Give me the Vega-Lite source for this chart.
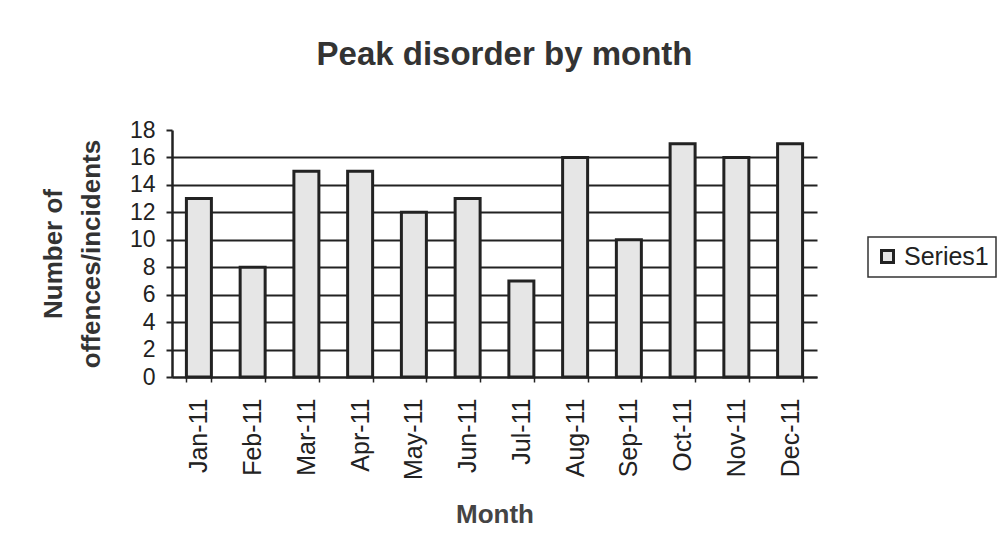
{
  "$schema": "https://vega.github.io/schema/vega-lite/v6.json",
  "width": 645,
  "height": 247,
  "autosize": "none",
  "padding": {"left": 172, "top": 130, "right": 183, "bottom": 183},
  "background": "white",
  "config": {
    "font": "Liberation Sans",
    "view": {"stroke": null},
    "legend": {"strokeColor": "#333", "padding": 7, "cornerRadius": 0, "strokeWidth": 1.5}
  },
  "title": {
    "text": "Peak disorder by month",
    "fontSize": 33,
    "fontWeight": "bold",
    "color": "#333",
    "offset": 47,
    "dx": 10
  },
  "data": {
    "values": [
      {"month": "Jan-11", "count": 13, "series": "Series1"},
      {"month": "Feb-11", "count": 8, "series": "Series1"},
      {"month": "Mar-11", "count": 15, "series": "Series1"},
      {"month": "Apr-11", "count": 15, "series": "Series1"},
      {"month": "May-11", "count": 12, "series": "Series1"},
      {"month": "Jun-11", "count": 13, "series": "Series1"},
      {"month": "Jul-11", "count": 7, "series": "Series1"},
      {"month": "Aug-11", "count": 16, "series": "Series1"},
      {"month": "Sep-11", "count": 10, "series": "Series1"},
      {"month": "Oct-11", "count": 17, "series": "Series1"},
      {"month": "Nov-11", "count": 16, "series": "Series1"},
      {"month": "Dec-11", "count": 17, "series": "Series1"}
    ]
  },
  "mark": {"type": "bar", "stroke": "#222", "strokeWidth": 3},
  "encoding": {
    "x": {
      "field": "month",
      "type": "nominal",
      "sort": null,
      "scale": {"paddingInner": 0.535, "paddingOuter": 0.268},
      "axis": {
        "title": "Month",
        "titleFontSize": 26,
        "titleFontWeight": "bold",
        "titleColor": "#444",
        "titlePadding": 22,
        "labelAngle": -90,
        "labelFontSize": 25,
        "labelColor": "#222",
        "labelPadding": 16,
        "tickBand": "extent",
        "tickColor": "#222",
        "tickSize": 5,
        "tickWidth": 1.5,
        "domainColor": "#222",
        "domainWidth": 2
      }
    },
    "y": {
      "field": "count",
      "type": "quantitative",
      "scale": {"domain": [0, 18]},
      "axis": {
        "title": ["Number of", "offences/incidents"],
        "titleFontSize": 26,
        "titleFontWeight": "bold",
        "titleColor": "#333",
        "titlePadding": 25,
        "titleLineHeight": 38,
        "values": [0, 2, 4, 6, 8, 10, 12, 14, 16, 18],
        "labelFontSize": 23,
        "labelColor": "#222",
        "labelPadding": 11,
        "tickColor": "#222",
        "tickSize": 6,
        "tickWidth": 2,
        "domainColor": "#222",
        "domainWidth": 2.5,
        "grid": true,
        "gridColor": "#222",
        "gridWidth": 2,
        "gridOpacity": {"condition": {"test": "datum.value == 18", "value": 0}, "value": 1}
      }
    },
    "color": {
      "field": "series",
      "type": "nominal",
      "scale": {"range": ["#e6e6e6"]},
      "legend": {
        "title": null,
        "orient": "none",
        "legendX": 696,
        "legendY": 107,
        "symbolType": "square",
        "symbolSize": 144,
        "symbolStrokeColor": "#222",
        "symbolStrokeWidth": 3,
        "labelFontSize": 25,
        "labelColor": "#222",
        "labelOffset": 4
      }
    }
  }
}
